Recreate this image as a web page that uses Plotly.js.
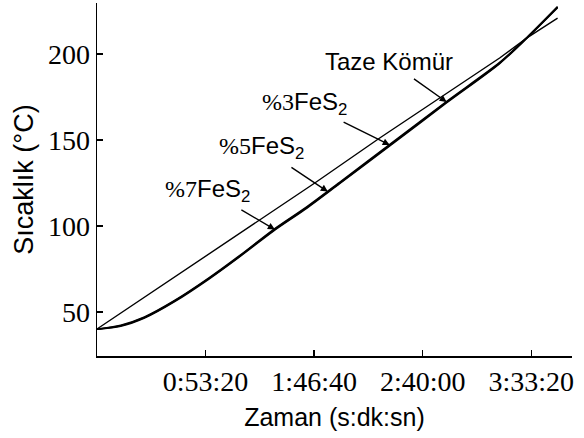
<!DOCTYPE html>
<html>
<head>
<meta charset="utf-8">
<script src="https://cdn.plot.ly/plotly-3.0.1.min.js"></script>
<style>html,body{margin:0;padding:0;background:#fff;}#chart{width:584px;height:438px;}</style>
</head>
<body>
<div id="chart"></div>
<script>
// time in seconds
const tazeT = [0, 1561, 3033, 4800, 6419, 8333, 10159, 11867, 12662, 13575];
const tazeY = [40.1, 60.8, 80.2, 103.5, 125.0, 151.2, 175.0, 197.7, 209.3, 220.9];

const fesT = [0, 700, 1400, 2300, 3300, 4200, 5200, 6200, 7150, 8630, 10300, 11867, 12662, 13575];
const fes3Y = [40, 42.3, 47.1, 56.8, 69.8, 82.7, 97.9, 111.4, 125.4, 147.4, 172.4, 195.1, 209.5, 227.6];
const fes5Y = [40, 42.0, 46.8, 56.5, 69.5, 82.4, 97.5, 111.0, 125.0, 147.0, 172.0, 194.8, 209.3, 227.3];
const fes7Y = [40, 41.7, 46.5, 56.2, 69.2, 82.1, 97.1, 110.6, 124.6, 146.6, 171.6, 194.5, 209.1, 227.0];

const xTickVals = [3200, 6400, 9600, 12800];
const xTickText = ["0:53:20", "1:46:40", "2:40:00", "3:33:20"];
const yTickVals = [50, 100, 150, 200];

const labels = ["Taze Kömür", "%3FeS<sub>2</sub>", "%5FeS<sub>2</sub>", "%7FeS<sub>2</sub>"];
const headX = [10306, 8628, 6802, 5242];
const headY = [172.1, 147.1, 120.0, 98.0];
const textDx = [-58, -85, -66, -67];
const textDy = [-41, -42, -44, -39];

function fmtLabel(s) {
  if (s.startsWith('%')) {
    return '<span style="font-family:\'Liberation Serif\', serif">' + s.slice(0, 2) + '</span>' + s.slice(2);
  }
  return s;
}

const traces = [
  {x: tazeT, y: tazeY, mode: 'lines', line: {color: '#000', width: 1.4}, name: 'Taze Kömür'},
  {x: fesT, y: fes3Y, mode: 'lines', line: {color: '#000', width: 1.6, shape: 'spline', smoothing: 0.8}, name: '%3FeS2'},
  {x: fesT, y: fes5Y, mode: 'lines', line: {color: '#000', width: 1.6, shape: 'spline', smoothing: 0.8}, name: '%5FeS2'},
  {x: fesT, y: fes7Y, mode: 'lines', line: {color: '#000', width: 1.6, shape: 'spline', smoothing: 0.8}, name: '%7FeS2'}
];

const annotations = labels.map((s, i) => ({
  x: headX[i], y: headY[i], xref: 'x', yref: 'y', text: fmtLabel(s),
  showarrow: true, arrowhead: 2, arrowsize: 1, arrowwidth: 1.4, arrowcolor: '#000',
  ax: textDx[i], ay: textDy[i], startstandoff: 5,
  font: {family: 'Liberation Sans, Arial, sans-serif', size: 24, color: '#000'}
}));

const layout = {
  width: 584, height: 438,
  margin: {l: 97, r: 12, t: 3, b: 82},
  paper_bgcolor: '#fff', plot_bgcolor: '#fff',
  showlegend: false,
  xaxis: {
    range: [0, 14000], tickvals: xTickVals, ticktext: xTickText,
    showline: true, linecolor: '#000', linewidth: 1.5, mirror: false,
    ticks: 'inside', ticklen: 6, tickwidth: 1.5, tickcolor: '#000',
    showgrid: false, zeroline: false,
    tickfont: {family: 'Liberation Serif, Times New Roman, serif', size: 28, color: '#000'},
    title: {text: 'Zaman (s:dk:sn)', font: {family: 'Liberation Sans, Arial, sans-serif', size: 25, color: '#000'}, standoff: 12}
  },
  yaxis: {
    range: [24.4, 229.7], tickvals: yTickVals,
    showline: true, linecolor: '#000', linewidth: 1.5, mirror: false,
    ticks: 'inside', ticklen: 6, tickwidth: 1.5, tickcolor: '#000',
    showgrid: false, zeroline: false,
    tickfont: {family: 'Liberation Serif, Times New Roman, serif', size: 28, color: '#000'},
    title: {text: 'Sıcaklık (°C)', font: {family: 'Liberation Sans, Arial, sans-serif', size: 27, color: '#000'}, standoff: 6}
  },
  annotations: annotations
};

Plotly.newPlot('chart', traces, layout, {displayModeBar: false, staticPlot: true});
</script>
</body>
</html>
